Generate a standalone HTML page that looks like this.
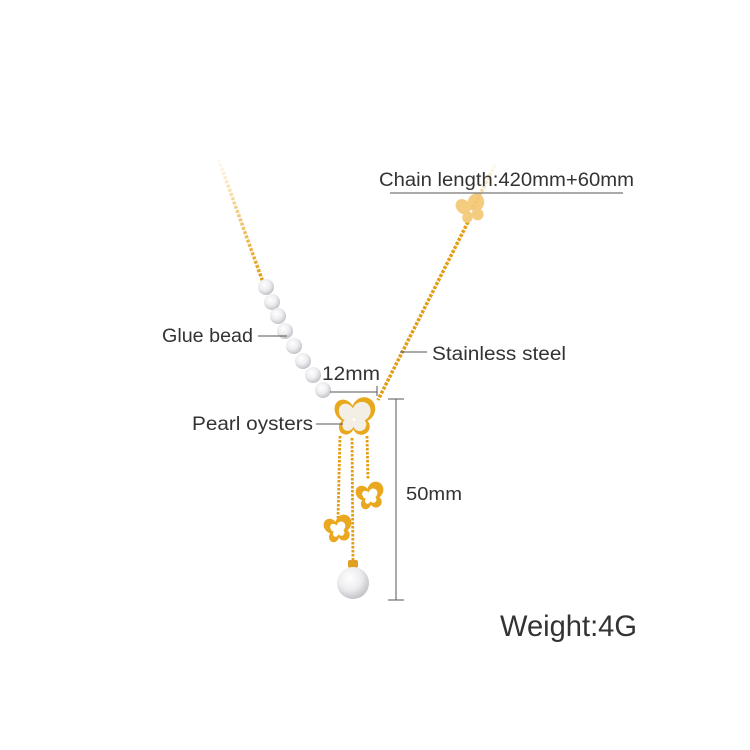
<!DOCTYPE html>
<html><head><meta charset="utf-8"><style>
html,body{margin:0;padding:0;background:#fff;}
svg{display:block;}
text{font-family:"Liberation Sans",sans-serif;fill:#333;}
</style></head><body>
<svg width="750" height="750" viewBox="0 0 750 750" xmlns="http://www.w3.org/2000/svg">
<defs>
<linearGradient id="fadeL" x1="217" y1="155" x2="262" y2="285" gradientUnits="userSpaceOnUse">
<stop offset="0" stop-color="#e8a010" stop-opacity="0"/>
<stop offset="0.45" stop-color="#e8a010" stop-opacity="0.55"/>
<stop offset="1" stop-color="#e09a10"/>
</linearGradient>
<linearGradient id="fadeR" x1="495" y1="165" x2="470" y2="215" gradientUnits="userSpaceOnUse">
<stop offset="0" stop-color="#f0b84a" stop-opacity="0.1"/>
<stop offset="1" stop-color="#f0b84a" stop-opacity="0.9"/>
</linearGradient>
<radialGradient id="pearl" cx="0.4" cy="0.35" r="0.75">
<stop offset="0" stop-color="#ffffff"/>
<stop offset="0.5" stop-color="#ececef"/>
<stop offset="1" stop-color="#b4b4ba"/>
</radialGradient>
<g id="bfly">
<ellipse cx="-9" cy="-7" rx="9" ry="11" transform="rotate(-30 -9 -7)"/>
<ellipse cx="9" cy="-8" rx="11" ry="12" transform="rotate(30 9 -8)"/>
<ellipse cx="-7" cy="8" rx="7" ry="8" transform="rotate(30 -7 8)"/>
<ellipse cx="7" cy="8" rx="8" ry="8" transform="rotate(-30 7 8)"/>
</g>
</defs>

<line x1="217" y1="155" x2="264" y2="285" stroke="url(#fadeL)" stroke-width="3.5" stroke-dasharray="3 1.5"/>
<line x1="495" y1="165" x2="472" y2="210" stroke="url(#fadeR)" stroke-width="3.5" stroke-dasharray="3 1.5"/>
<line x1="468" y1="222" x2="378" y2="400" stroke="#e49c10" stroke-width="3.5" stroke-dasharray="3 1.5"/>

<g transform="translate(471,210) rotate(-15) scale(0.75)" fill="#f3c46a" opacity="0.85"><use href="#bfly"/></g>

<g fill="url(#pearl)">
<circle cx="266" cy="287" r="8"/>
<circle cx="272" cy="302" r="8"/>
<circle cx="278" cy="316" r="8"/>
<circle cx="285" cy="331" r="8"/>
<circle cx="294" cy="346" r="8"/>
<circle cx="303" cy="361" r="8"/>
<circle cx="313" cy="375" r="8"/>
<circle cx="323" cy="390" r="8"/>
</g>

<g stroke="#e49c10" stroke-width="2.8" stroke-dasharray="2.5 1.5">
<line x1="340" y1="436" x2="338" y2="518"/>
<line x1="352" y1="438" x2="353" y2="565"/>
<line x1="367" y1="436" x2="368" y2="480"/>
</g>

<g transform="translate(354,418) scale(1.05)">
<g fill="#e8a81e"><use href="#bfly"/></g>
<g fill="#f3efe6" transform="scale(0.78)"><use href="#bfly"/></g>
</g>

<g transform="translate(370,497) rotate(-10) scale(0.72)">
<g fill="#eaa820"><use href="#bfly"/></g>
<g fill="#fff" transform="scale(0.55)"><use href="#bfly"/></g>
</g>
<g transform="translate(338,530) rotate(-10) scale(0.72)">
<g fill="#eaa820"><use href="#bfly"/></g>
<g fill="#fff" transform="scale(0.55)"><use href="#bfly"/></g>
</g>

<rect x="348" y="560" width="10" height="8" rx="2" fill="#e0a020"/>
<circle cx="353" cy="583" r="16" fill="url(#pearl)"/>

<g stroke="#555" stroke-width="1">
<line x1="390" y1="193" x2="623" y2="193"/>
<line x1="258" y1="336" x2="287" y2="336"/>
<line x1="400" y1="352" x2="427" y2="352"/>
<line x1="316" y1="424" x2="343" y2="424"/>
<line x1="330" y1="392" x2="377" y2="392"/>
<line x1="377" y1="386" x2="377" y2="396"/>
<line x1="396" y1="399" x2="396" y2="600"/>
<line x1="388" y1="399" x2="404" y2="399"/>
<line x1="388" y1="600" x2="404" y2="600"/>
</g>

<text x="379" y="186" font-size="19" textLength="255" lengthAdjust="spacingAndGlyphs">Chain length:420mm+60mm</text>
<text x="162" y="342" font-size="19" textLength="91" lengthAdjust="spacingAndGlyphs">Glue bead</text>
<text x="432" y="360" font-size="19" textLength="134" lengthAdjust="spacingAndGlyphs">Stainless steel</text>
<text x="322" y="380" font-size="19" textLength="58" lengthAdjust="spacingAndGlyphs">12mm</text>
<text x="192" y="430" font-size="19" textLength="121" lengthAdjust="spacingAndGlyphs">Pearl oysters</text>
<text x="406" y="500" font-size="18" textLength="56" lengthAdjust="spacingAndGlyphs">50mm</text>
<text x="500" y="636" font-size="30" fill="#222" textLength="137" lengthAdjust="spacingAndGlyphs">Weight:4G</text>
</svg>
</body></html>
